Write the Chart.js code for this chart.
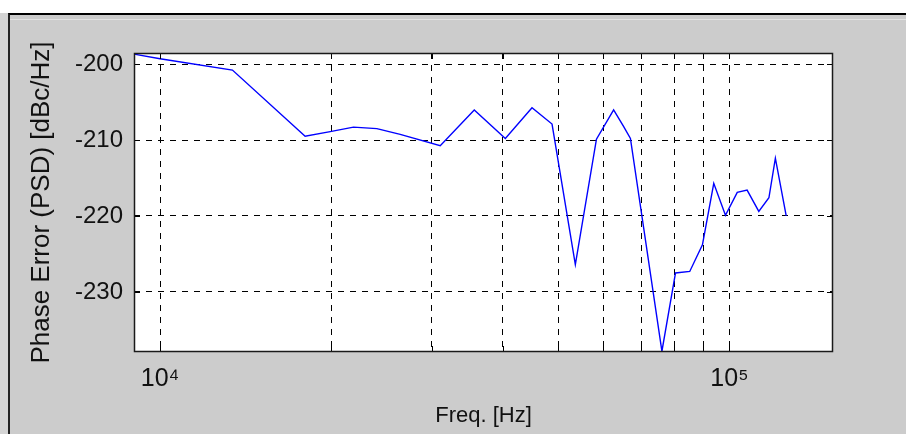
<!DOCTYPE html>
<html><head><meta charset="utf-8">
<script src="https://cdn.jsdelivr.net/npm/chart.js@4/dist/chart.umd.min.js"></script>
<style>
html,body{margin:0;padding:0;background:#fff;}
#frame{position:absolute;left:0;top:0;width:906px;height:437px;overflow:hidden;background:#fff;}
#side{position:absolute;left:0;top:13px;width:8px;bottom:3px;background:#d4d4d4;}
#win{position:absolute;left:8px;top:13px;right:0;bottom:3px;background:#cccccc;border-top:2px solid #000;border-left:2px solid #222;}
#hl{position:absolute;left:10px;top:19px;right:0;height:1px;background:#e4e4e4;}
canvas{position:absolute;left:0;top:0;}
</style></head>
<body><div id="frame"><div id="side"></div><div id="win"></div><div id="hl"></div><canvas id="c" width="906" height="437"></canvas></div>
<script>
const freqHz = [9000, 10000, 13400, 17980, 19900, 21860, 24030, 26410, 31050, 35630,
  40400, 45000, 48800, 53620, 58400, 62600, 65200, 67000, 76100, 80400,
  85160, 89650, 93850, 98400, 103200, 107400, 112600, 117300, 120400, 125800];
const phaseErr = [-198.7, -199.3, -200.8, -209.5, -208.9, -208.3, -208.5, -209.25, -210.75, -206.05,
  -209.8, -205.75, -207.9, -226.4, -209.9, -206.05, -208.25, -209.8, -237.8, -227.5,
  -227.3, -223.8, -215.7, -219.9, -216.9, -216.6, -219.4, -217.6, -212.4, -220.0];
const xGridTicks = [10000, 20000, 30000, 40000, 50000, 60000, 70000, 80000, 90000, 100000];
const xTickLabels = {10000: '10\u2074', 100000: '10\u2075'};
const yTicks = [-200, -210, -220, -230];
const xRange = [9000, 152000];
const yRange = [-237.9, -198.55];

const FONT = 'Liberation Sans, Arial, Helvetica, sans-serif';

const boxPlugin = {
  id: 'box',
  beforeDraw(chart) {
    const a = chart.chartArea, ctx = chart.ctx;
    ctx.save();
    ctx.fillStyle = '#ffffff';
    ctx.fillRect(a.left, a.top, a.right - a.left, a.bottom - a.top);
    ctx.restore();
  },
  afterDraw(chart) {
    const a = chart.chartArea, ctx = chart.ctx;
    const xs = chart.scales.x, ys = chart.scales.y;
    ctx.save();
    ctx.strokeStyle = '#000';
    ctx.lineWidth = 1;
    ctx.setLineDash([]);
    ctx.beginPath();
    const L = 6;
    xGridTicks.forEach(v => {
      const p = Math.round(xs.getPixelForValue(v)) + 0.5;
      ctx.moveTo(p, a.bottom); ctx.lineTo(p, a.bottom - L);
      ctx.moveTo(p, a.top); ctx.lineTo(p, a.top + L);
    });
    yTicks.forEach(v => {
      const p = Math.round(ys.getPixelForValue(v)) + 0.5;
      ctx.moveTo(a.left, p); ctx.lineTo(a.left + L, p);
      ctx.moveTo(a.right, p); ctx.lineTo(a.right - L, p);
    });
    ctx.stroke();
    ctx.strokeStyle = '#1a1a1a';
    ctx.lineWidth = 1.5;
    ctx.strokeRect(a.left + 0.5, a.top + 0.5, a.right - a.left - 1, a.bottom - a.top - 1);
    ctx.restore();
  }
};

new Chart(document.getElementById('c'), {
  type: 'line',
  data: {
    datasets: [{
      data: freqHz.map((f, i) => ({x: f, y: phaseErr[i]})),
      borderColor: '#0000ff',
      borderWidth: 1.4,
      pointRadius: 0,
      tension: 0,
      fill: false
    }]
  },
  options: {
    responsive: false,
    animation: false,
    devicePixelRatio: 1,
    layout: {padding: {left: 0, top: 53, right: 73, bottom: 0}},
    plugins: {legend: {display: false}, tooltip: {enabled: false}},
    scales: {
      x: {
        type: 'logarithmic', min: xRange[0], max: xRange[1],
        afterBuildTicks: s => { s.ticks = xGridTicks.map(v => ({value: v})); },
        afterFit: s => { s.height = 85; },
        ticks: {autoSkip: false, maxRotation: 0, minRotation: 0, padding: 12, color: '#111',
          font: {family: FONT, size: 25}, callback: v => xTickLabels[v] || ''},
        grid: {color: '#000', lineWidth: 1, drawTicks: false},
        border: {display: false, dash: [6, 6]},
        title: {display: true, text: 'Freq. [Hz]', color: '#111', font: {family: FONT, size: 22},
          padding: {top: 0, bottom: 8}}
      },
      y: {
        min: yRange[0], max: yRange[1],
        afterBuildTicks: s => { s.ticks = yTicks.map(v => ({value: v})); },
        afterFit: s => { s.width = 134; },
        ticks: {padding: 11, color: '#111', font: {family: FONT, size: 24}},
        grid: {color: '#000', lineWidth: 1, drawTicks: false},
        border: {display: false, dash: [6, 6]},
        title: {display: true, text: 'Phase Error (PSD) [dBc/Hz]', color: '#111',
          font: {family: FONT, size: 26}, padding: {top: 26, bottom: 0}}
      }
    }
  },
  plugins: [boxPlugin]
});
</script>
</body></html>
